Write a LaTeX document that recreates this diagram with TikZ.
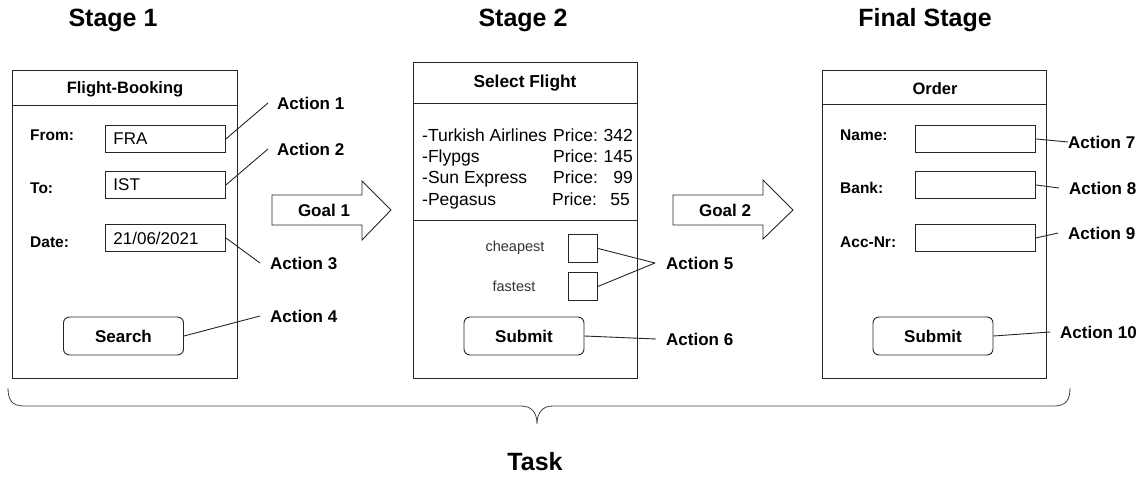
\documentclass[tikz,border=0pt]{standalone}
\usepackage{fontspec}
\setmainfont{Liberation Sans}
\begin{document}
\begin{tikzpicture}[x=1pt,y=-1pt,
  every node/.style={inner sep=0pt, text=black},
  ln/.style={draw=black!85, line width=0.9pt},
  panel/.style={ln, anchor=north west, minimum width=#1},
  fieldbox/.style={ln, anchor=north west, minimum width=120pt, minimum height=27pt,
     text width=104pt, inner xsep=8pt, align=left, font=\fontsize{17}{20}\selectfont},
  btn/.style={ln, rounded corners=6pt, minimum width=120pt, minimum height=38pt,
     font=\fontsize{17}{20}\selectfont\bfseries},
  chk/.style={ln, anchor=north west, minimum width=29pt, minimum height=28pt},
  stagetitle/.style={font=\fontsize{25}{30}\selectfont\bfseries},
  hdr/.style={font=\fontsize{16.5}{20}\selectfont\bfseries},
  flabel/.style={anchor=west, font=\fontsize{15.5}{18}\selectfont\bfseries},
  act/.style={anchor=west, font=\fontsize{17}{20}\selectfont\bfseries},
  lst/.style={font=\fontsize{17.5}{21}\selectfont},
  small/.style={font=\fontsize{14.5}{17}\selectfont, text=black!80},
  goal/.style={font=\fontsize{17}{20}\selectfont\bfseries}
]
\useasboundingbox (0,0) rectangle (1143,477);

% stage titles
\node[stagetitle] (s1) at (113,20) {Stage 1};
\node[stagetitle] (s2) at (523,20) {Stage 2};
\node[stagetitle] (s3) at (925,20) {Final Stage};

% ---------- panel 1 ----------
\node[panel=225pt, minimum height=308pt] (p1) at (12,70) {};
\draw[ln] (p1.west |- 0,105) -- (p1.east |- 0,105);
\node[hdr] (h1) at (125,89) {Flight-Booking};
\node[flabel] (l1) at (30,135) {From:};
\node[flabel] (l2) at (30,188) {To:};
\node[flabel] (l3) at (30,242) {Date:};
\node[fieldbox] (f1) at (105,125) {FRA};
\node[fieldbox] (f2) at (105,171) {IST};
\node[fieldbox] (f3) at (105,224) {21/06/2021};
\node[btn] (b1) at (123.5,336) {Search};

\node[act] (a1) at (277,103) {Action 1};
\node[act] (a2) at (277,149) {Action 2};
\node[act] (a3) at (270,263) {Action 3};
\node[act] (a4) at (270,316) {Action 4};
\draw[ln] (f1.east) -- ([xshift=-9pt]a1.west);
\draw[ln] (f2.east) -- ([xshift=-9pt]a2.west);
\draw[ln] (f3.east) -- ([xshift=-10pt]a3.west);
\draw[ln] (b1.east) -- ([xshift=-10pt]a4.west);

% goal 1 arrow
\draw[ln] (272,195) -- (362,195) -- (362,181) -- (391,210) -- (362,240) -- (362,225) -- (272,225) -- cycle;
\node[goal] (g1) at (324,210) {Goal 1};

% ---------- panel 2 ----------
\node[panel=224pt, minimum height=316pt] (p2) at (413,62) {};
\draw[ln] (p2.west |- 0,103) -- (p2.east |- 0,103);
\node[hdr, font=\fontsize{17.3}{20}\selectfont\bfseries] (h2) at (525,83) {Select Flight};

\node[lst, anchor=base west] (n1) at (422,141) {-Turkish Airlines};
\node[lst, anchor=base west] (n2) at (422,162) {-Flypgs};
\node[lst, anchor=base west] (n3) at (422,183) {-Sun Express};
\node[lst, anchor=base west] (n4) at (422,205) {-Pegasus};
\node[lst, anchor=base west] (q1) at (553,141) {Price:};
\node[lst, anchor=base west] (q2) at (553,162) {Price:};
\node[lst, anchor=base west] (q3) at (553,183) {Price:};
\node[lst, anchor=base west] (q4) at (552,205) {Price:};
\node[lst, anchor=base east] (v1) at (633,141) {342};
\node[lst, anchor=base east] (v2) at (633,162) {145};
\node[lst, anchor=base east] (v3) at (633,183) {99};
\node[lst, anchor=base east] (v4) at (630,205) {55};

\draw[ln] (p2.west |- 0,220) -- (p2.east |- 0,220);
\node[small] (t1) at (515,248) {cheapest};
\node[small] (t2) at (514,286) {fastest};
\node[chk] (c1) at (568,234) {};
\node[chk] (c2) at (568,272) {};
\node[btn] (b2) at (524,336) {Submit};

\node[act] (a5) at (666,263) {Action 5};
\node[act] (a6) at (666,339) {Action 6};
\draw[ln] (c1.east) -- ([xshift=-11pt]a5.west);
\draw[ln] (c2.east) -- ([xshift=-11pt]a5.west);
\draw[ln] (b2.east) -- ([xshift=-10pt]a6.west);

% goal 2 arrow
\draw[ln] (673,195) -- (763,195) -- (763,180) -- (793,210) -- (763,239) -- (763,225) -- (673,225) -- cycle;
\node[goal] (g2) at (725,210) {Goal 2};

% ---------- panel 3 ----------
\node[panel=224pt, minimum height=308pt] (p3) at (822,70) {};
\draw[ln] (p3.west |- 0,104) -- (p3.east |- 0,104);
\node[hdr] (h3) at (935,89) {Order};
\node[flabel] (l4) at (840,135) {Name:};
\node[flabel] (l5) at (840,188) {Bank:};
\node[flabel] (l6) at (840,242) {Acc-Nr:};
\node[fieldbox] (f4) at (915,125) {};
\node[fieldbox] (f5) at (915,171) {};
\node[fieldbox] (f6) at (915,224) {};
\node[btn] (b3) at (933,336) {Submit};

\node[act] (a7) at (1068,142) {Action 7};
\node[act] (a8) at (1069,188) {Action 8};
\node[act] (a9) at (1068,233) {Action 9};
\node[act] (a10) at (1060,332) {Action 10};
\draw[ln] (f4.east) -- (a7.west);
\draw[ln] (f5.east) -- ([xshift=-10pt]a8.west);
\draw[ln] (f6.east) -- ([xshift=-10pt]a9.west);
\draw[ln] (b3.east) -- ([xshift=-10pt]a10.west);

% brace
\draw[draw=black!75, line width=0.8pt] (8,388) .. controls (8,400) and (12,406) .. (24,406) -- (521,406)
  .. controls (531,406) and (537,412) .. (537,424)
  .. controls (537,412) and (543,406) .. (553,406) -- (1054,406)
  .. controls (1066,406) and (1070,400) .. (1070,388);
\node[stagetitle] (task) at (535,462) {Task};
\end{tikzpicture}
\end{document}
